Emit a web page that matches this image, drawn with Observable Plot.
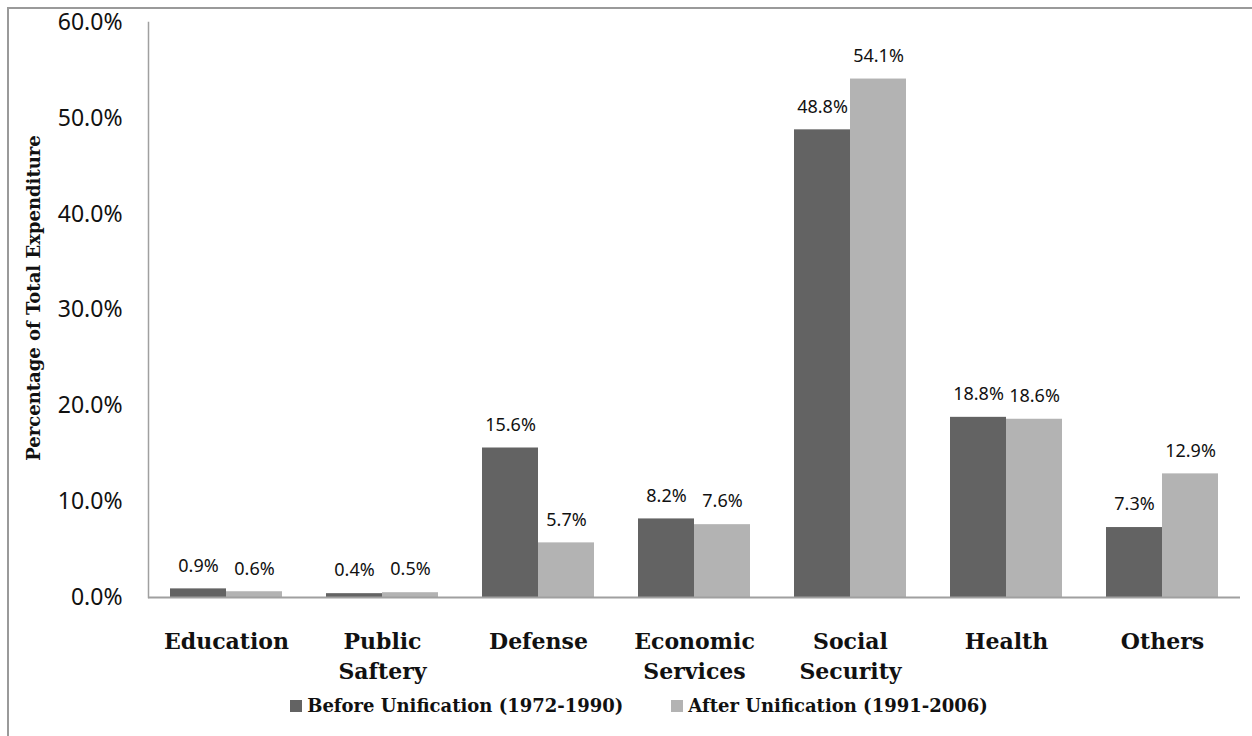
<!DOCTYPE html>
<html>
<head>
<meta charset="utf-8">
<script src="https://cdn.jsdelivr.net/npm/d3@7"></script>
<script src="https://cdn.jsdelivr.net/npm/@observablehq/plot@0.6"></script>
<style>
  body { margin: 0; background: #fff; overflow: hidden; }
  #wrap { position: relative; width: 1252px; height: 736px; overflow: hidden; }
  #border { position: absolute; left: 7px; top: 7px; width: 1290px; height: 780px; border: 2px solid #9a9a9a; box-sizing: border-box; }
  #chart { position: absolute; left: 0; top: 0; }
  #chart g[aria-label="fx-axis tick label"],
  #chart g[aria-label="fx-axis tick label"] text { font-family: "DejaVu Serif", serif !important; font-weight: bold !important; }
  #chart g[aria-label="y-axis tick label"],
  #chart g[aria-label="y-axis tick label"] text { font-family: "Noto Sans", sans-serif !important; }
  #legend { position: absolute; left: 0; top: 695px; width: 1278px; display: flex; justify-content: center; gap: 48px;
            font: bold 18px "DejaVu Serif"; color: #111; }
  #legend .item { display: flex; align-items: center; }
  #legend .sw { display: inline-block; width: 12px; height: 12px; margin-right: 5px; }
</style>
</head>
<body>
<div id="wrap">
  <div id="border"></div>
  <div id="chart"></div>
  <div id="legend"></div>
</div>
<script>
// Share of total public expenditure by function, before and after unification
const categories = ["Education", "Public Saftery", "Defense", "Economic Services", "Social Security", "Health", "Others"];
const categoryLabels = ["Education", "Public\nSaftery", "Defense", "Economic\nServices", "Social\nSecurity", "Health", "Others"];
const series = ["Before Unification (1972-1990)", "After Unification (1991-2006)"];
const before = [0.9, 0.4, 15.6, 8.2, 48.8, 18.8, 7.3];
const after = [0.6, 0.5, 5.7, 7.6, 54.1, 18.6, 12.9];
const yTicks = [0, 10, 20, 30, 40, 50, 60];
const yTitle = "Percentage of Total Expenditure";
const colors = ["#636363", "#b3b3b3"];

const rows = categories.flatMap((c, i) => [
  {category: c, series: series[0], value: before[i]},
  {category: c, series: series[1], value: after[i]}
]);
const pct = d => d.toFixed(1) + "%";
const labelOf = c => categoryLabels[categories.indexOf(c)];

const chart = Plot.plot({
  width: 1252,
  height: 690,
  marginLeft: 146,
  marginRight: 11,
  marginTop: 22,
  marginBottom: 93,
  style: {background: "transparent", overflow: "visible"},
  fx: {domain: categories, padding: 0, label: null},
  x: {domain: series, paddingInner: 0, paddingOuter: 0.37, axis: null},
  y: {domain: [0, 60], label: null},
  color: {domain: series, range: colors},
  marks: [
    Plot.axisY({ticks: yTicks, tickSize: 0, tickPadding: 26, tickFormat: pct, fontSize: 23,
                fontFamily: "Noto Sans", fill: "#111", label: null}),
    // rotated y-axis title, drawn once across the whole frame
    Plot.text([yTitle], {facet: "super", frameAnchor: "left", rotate: -90, dx: -114, dy: -12,
                         lineAnchor: "middle", textAnchor: "middle", fontSize: 18,
                         fontFamily: "DejaVu Serif", fontWeight: "bold", fill: "#111"}),
    Plot.axisFx({anchor: "bottom", tickSize: 0, tickPadding: 30, tickFormat: labelOf, fontSize: 22,
                 fontWeight: "bold", fontFamily: "DejaVu Serif", lineHeight: 1.36, fill: "#111", label: null}),
    Plot.barY(rows, {fx: "category", x: "series", y: "value", fill: "series"}),
    Plot.text(rows, {fx: "category", x: "series", y: "value", text: d => pct(d.value), dy: -23,
                     fontSize: 18, fontFamily: "Noto Sans", fill: "#111"}),
    Plot.ruleY([0], {stroke: "#a0a0a0", strokeWidth: 2}),
    Plot.frame({anchor: "left", facet: "super", stroke: "#a0a0a0", strokeWidth: 1.5})
  ]
});
document.getElementById("chart").appendChild(chart);

// Legend below the plot
const legend = d3.select("#legend");
series.forEach((s, i) => {
  const item = legend.append("div").attr("class", "item");
  item.append("span").attr("class", "sw").style("background", colors[i]);
  item.append("span").text(s);
});
</script>
</body>
</html>
